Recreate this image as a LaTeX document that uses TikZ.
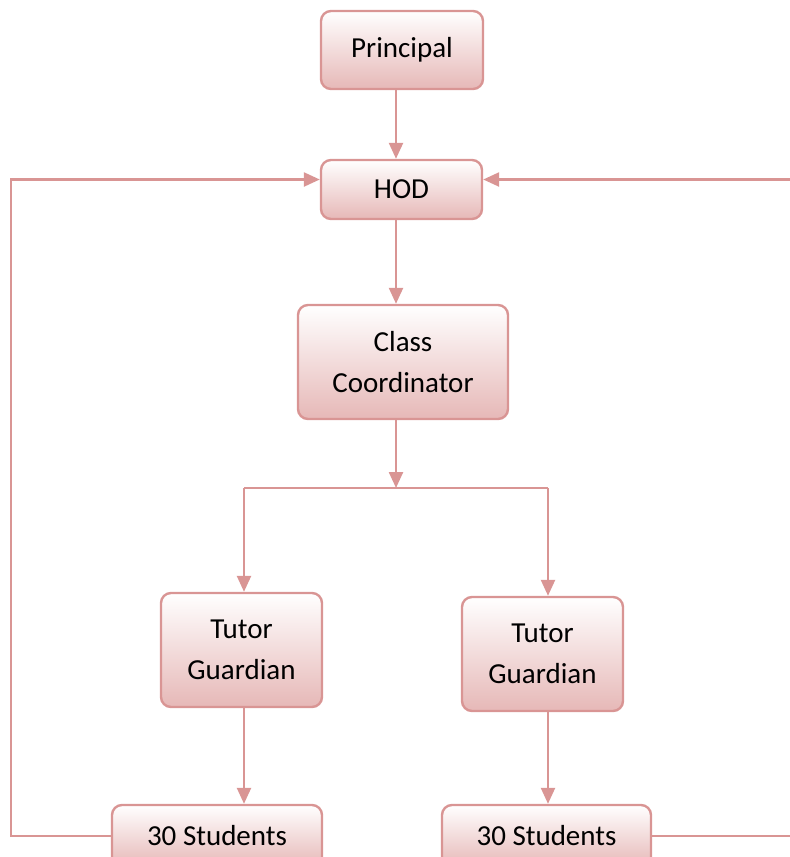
\documentclass[tikz,border=0pt]{standalone}
\usepackage{fontspec}
\setmainfont{Carlito}
\usetikzlibrary{arrows.meta}
\definecolor{boxline}{HTML}{D99594}
\definecolor{boxfill}{HTML}{E6B8B7}
\tikzset{
  box/.style={draw=boxline, line width=1.2pt, rounded corners=5pt, top color=white, bottom color=boxfill, align=center, font=\fontsize{14.5}{20.5}\selectfont, inner sep=0pt},
  link/.style={draw=boxline, line width=1.2pt},
  arr/.style={link, -{Triangle[width=7pt,length=8pt]}}
}
\begin{document}
\begin{tikzpicture}[x=0.5pt, y=-0.5pt]
\useasboundingbox (0,0) rectangle (790,857);
\node[box, minimum width=81pt, minimum height=39pt] (principal) at (402,50) {Principal};
\node[box, minimum width=80.5pt, minimum height=29.5pt] (hod) at (401.5,189.5) {HOD};
\node[box, minimum width=105pt, minimum height=57pt] (coord) at (403,362) {Class\\Coordinator};
\node[box, minimum width=80.5pt, minimum height=57pt] (tutorL) at (241.5,650) {Tutor\\Guardian};
\node[box, minimum width=80.5pt, minimum height=57pt] (tutorR) at (542.5,654) {Tutor\\Guardian};
\node[box, minimum width=105pt, minimum height=31pt] (studL) at (217,836) {30 Students};
\node[box, minimum width=104.5pt, minimum height=31pt] (studR) at (546.5,836) {30 Students};
\coordinate (branch) at (396,488);
\coordinate (lb) at (244,488);
\coordinate (rb) at (548,488);
\coordinate (loopL) at (11,836);
\coordinate (loopR) at (800,836);
% top to bottom
\draw[arr] (principal.south -| branch) -- (hod.north -| branch);
\draw[arr] (hod.south -| branch) -- (coord.north -| branch);
\draw[arr] (coord.south -| branch) -- (branch);
\draw[link] (lb) -- (rb);
\draw[arr] (lb) -- (tutorL.north -| lb);
\draw[arr] (rb) -- (tutorR.north -| rb);
\draw[arr] (tutorL.south -| lb) -- (studL.north -| lb);
\draw[arr] (tutorR.south -| rb) -- (studR.north -| rb);
% feedback
\draw[arr] (studL.west) -- (loopL) |- ([yshift=5pt]hod.west);
\draw[arr] (studR.east) -- (loopR) |- ([yshift=5pt]hod.east);
\end{tikzpicture}
\end{document}
